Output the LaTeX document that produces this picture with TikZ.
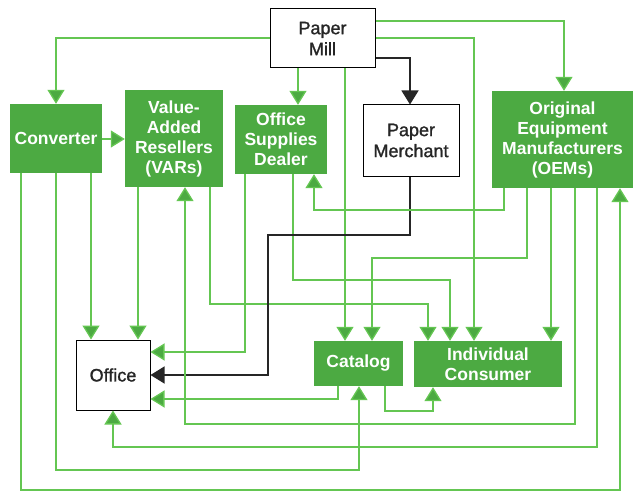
\documentclass[tikz,border=0pt]{standalone}
\usepackage{fontspec}
\setmainfont{Liberation Sans}
\newfontfamily\medfont[FakeBold=1.3]{Liberation Sans}
\usetikzlibrary{arrows.meta}
\definecolor{boxg}{RGB}{76,170,66}
\definecolor{lineg}{RGB}{100,198,82}
\begin{document}
\begin{tikzpicture}[x=1pt,y=-1pt,
  gbox/.style={fill=boxg, draw=none, inner sep=0pt, align=center,
    text=white, font=\fontsize{17.5}{20}\selectfont\bfseries},
  wbox/.style={fill=white, draw=black, line width=1pt, inner sep=0pt, align=center,
    text=black!85, font=\medfont\fontsize{18}{21}\selectfont},
  gl/.style={draw=lineg, line width=1.3pt, -{Triangle[width=17pt,length=14pt,fill=boxg]}, color=lineg},
  bl/.style={draw=black!85, line width=1.3pt, -{Triangle[width=17pt,length=14pt]}},
  gp/.style={draw=lineg, line width=1.3pt}]
\useasboundingbox (0,0) rectangle (637,492);
\fill[white] (0,0) rectangle (637,492);

\foreach \v in {21,56,91,113,138,185,210,245,268,293,298,314,338,345,359,372,385,410,428,433,450,474,504,527,551,564,575,597,620}
  \coordinate (c\v) at (\v,0);
\foreach \v in {21,38,58,139,210,235,258,280,304,352,375,399,411,424,447,470,490}
  \coordinate (r\v) at (0,\v);

% nodes
\node[wbox, minimum width=105, minimum height=59] (mill) at (322.5,38.5) {Paper\\Mill};
\node[gbox, minimum width=92, minimum height=69] (conv) at (56,138.5) {Converter};
\node[gbox, minimum width=98, minimum height=97] (vars) at (174,138.5) {Value-\\Added\\Resellers\\(VARs)};
\node[gbox, minimum width=92, minimum height=69] (dealer) at (281,139.5) {Office\\Supplies\\Dealer};
\node[wbox, minimum width=96, minimum height=71] (merch) at (411,140.5) {Paper\\Merchant};
\node[gbox, minimum width=141, minimum height=97] (oem) at (562.5,139.5) {Original\\Equipment\\Manufacturers\\(OEMs)};
\node[wbox, minimum width=74, minimum height=70] (office) at (113,375) {Office};
\node[gbox, minimum width=89, minimum height=45] (cat) at (358.5,363.5) {Catalog};
\node[gbox, minimum width=148, minimum height=46] (ic) at (488,364) {Individual\\Consumer};

% from Paper Mill
\draw[gl] (mill.west |- r38) -| (c56 |- conv.north);
\draw[gl] (mill.east |- r21) -| (c564 |- oem.north);
\draw[gl] (mill.east |- r38) -| (c474 |- ic.north);
\draw[bl] (mill.east |- r58) -| (c410 |- merch.north);
\draw[gl] (c298 |- mill.south) -- (c298 |- dealer.north);
\draw[gl] (c345 |- mill.south) -- (c345 |- cat.north);

% from Converter
\draw[gl] (conv.east |- r139) -- (vars.west |- r139);
\draw[gl] (c91 |- conv.south) -- (c91 |- office.north);
\draw[gl] (c56 |- conv.south) |- (c359 |- r470) -- (c359 |- cat.south);
\draw[gl] (c21 |- conv.south) |- (c620 |- r490) -- (c620 |- oem.south);

% from VARs
\draw[gl] (c138 |- vars.south) -- (c138 |- office.north);
\draw[gl] (c210 |- vars.south) |- (c428 |- r304) -- (c428 |- ic.north);

% from Office Supplies Dealer
\draw[gl] (c245 |- dealer.south) |- (office.east |- r352);
\draw[gl] (c293 |- dealer.south) |- (c450 |- r280) -- (c450 |- ic.north);

% from Paper Merchant
\draw[bl] (c410 |- merch.south) |- (c268 |- r235) |- (office.east |- r375);

% from OEMs
\draw[gl] (c504 |- oem.south) |- (c314 |- r210) -- (c314 |- dealer.south);
\draw[gl] (c527 |- oem.south) |- (c372 |- r258) -- (c372 |- cat.north);
\draw[gl] (c551 |- oem.south) -- (c551 |- ic.north);
\draw[gl] (c575 |- oem.south) |- (c185 |- r424) -- (c185 |- vars.south);
\draw[gl] (c597 |- oem.south) |- (c113 |- r447) -- (c113 |- office.south);

% from Catalog
\draw[gl] (c338 |- cat.south) |- (office.east |- r399);
\draw[gl] (c385 |- cat.south) |- (c433 |- r411) -- (c433 |- ic.south);
\end{tikzpicture}
\end{document}
